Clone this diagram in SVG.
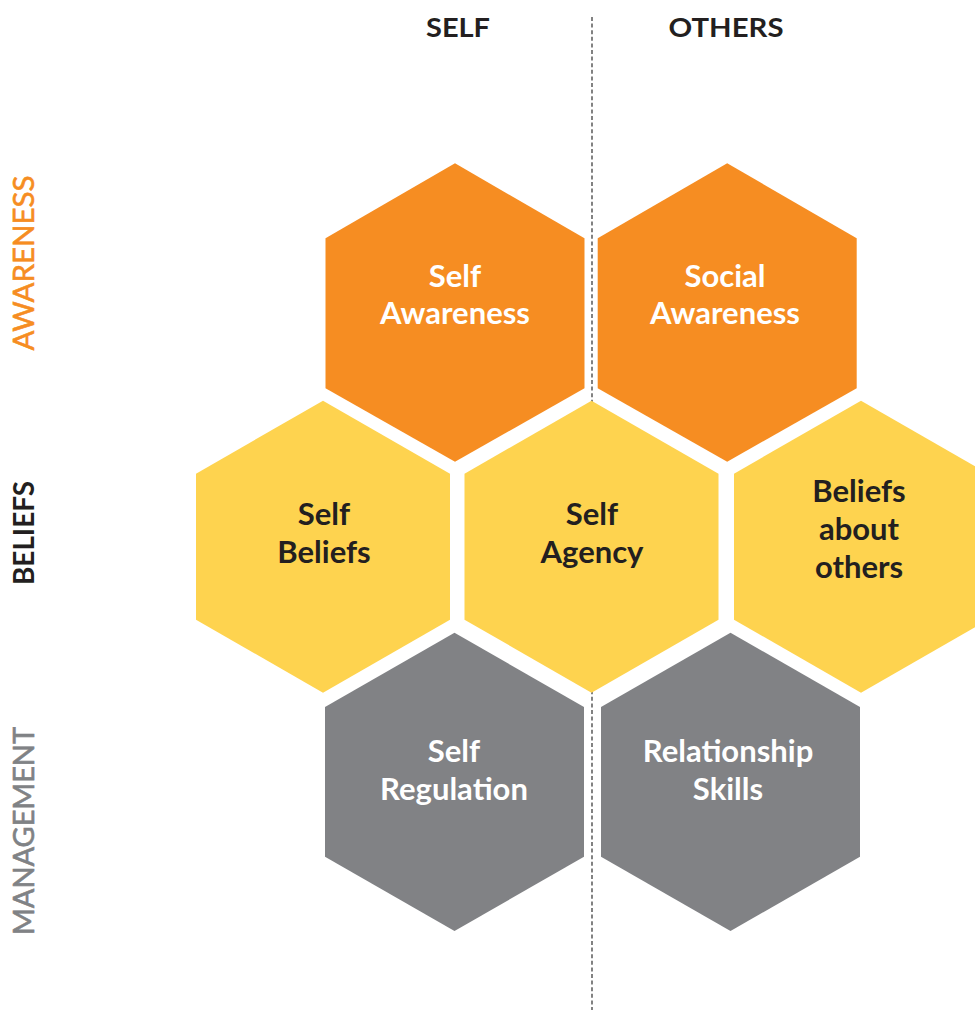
<svg xmlns="http://www.w3.org/2000/svg" width="975" height="1010" viewBox="0 0 975 1010">
<style>
.orange{fill:#F68D22}
.yellow{fill:#FED34F}
.gray{fill:#818285}
.lbl{font-family:Lato,"Open Sans","Liberation Sans",sans-serif;font-weight:700;font-size:31px;text-anchor:middle}
.w{fill:#ffffff}
.d{fill:#231F20}
.hdr{font-family:Lato,"Open Sans","Liberation Sans",sans-serif;font-weight:700;font-size:27px;fill:#231F20;text-anchor:middle}
.side{font-family:Lato,"Open Sans","Liberation Sans",sans-serif;font-size:29px;text-anchor:middle}
</style>
<rect width="975" height="1010" fill="#ffffff"/>
<g id="connectors">
<line x1="592" y1="17" x2="592" y2="1010" stroke="#4D4D4D" stroke-width="1.4" stroke-dasharray="4 2.6"/>
</g>
<g id="header-self"><text class="hdr" x="458" y="37" textLength="64" lengthAdjust="spacingAndGlyphs">SELF</text></g>
<g id="header-others"><text class="hdr" x="726" y="37" textLength="115" lengthAdjust="spacingAndGlyphs">OTHERS</text></g>
<g id="row-awareness"><text class="side" fill="#F68D22" stroke="#F68D22" stroke-width="0.6" transform="translate(34,263) rotate(-90)" textLength="175" lengthAdjust="spacingAndGlyphs">AWARENESS</text></g>
<g id="row-beliefs"><text class="side" fill="#231F20" font-weight="700" transform="translate(34,533) rotate(-90)" textLength="104" lengthAdjust="spacingAndGlyphs">BELIEFS</text></g>
<g id="row-management"><text class="side" fill="#808285" stroke="#808285" stroke-width="0.6" transform="translate(34,831) rotate(-90)" textLength="208" lengthAdjust="spacingAndGlyphs">MANAGEMENT</text></g>
<g id="self-awareness">
<polygon class="orange" points="455,163.3 584.5,238.3 584.5,388.3 455,461.7 325.5,388.3 325.5,238.3"/>
<text class="lbl w" x="455" y="287">Self</text>
<text class="lbl w" x="455" y="324">Awareness</text>
</g>
<g id="social-awareness">
<polygon class="orange" points="727.2,163.3 856.7,238.3 856.7,388.3 727.2,461.7 597.7,388.3 597.7,238.3"/>
<text class="lbl w" x="725" y="287">Social</text>
<text class="lbl w" x="725" y="324">Awareness</text>
</g>
<g id="self-beliefs">
<polygon class="yellow" points="323,400.7 450,473.7 450,619.7 323,692.7 196,619.7 196,473.7"/>
<text class="lbl d" x="324" y="525">Self</text>
<text class="lbl d" x="324" y="563">Beliefs</text>
</g>
<g id="self-agency">
<polygon class="yellow" points="591.5,400.7 718.5,473.7 718.5,619.7 591.5,692.7 464.5,619.7 464.5,473.7"/>
<text class="lbl d" x="592" y="525">Self</text>
<text class="lbl d" x="592" y="563">Agency</text>
</g>
<g id="beliefs-about-others">
<polygon class="yellow" points="861,400.7 988,473.7 988,619.7 861,692.7 734,619.7 734,473.7"/>
<text class="lbl d" x="859" y="502">Beliefs</text>
<text class="lbl d" x="859" y="540">about</text>
<text class="lbl d" x="859" y="578">others</text>
</g>
<g id="self-regulation">
<polygon class="gray" points="454.5,632.7 584,707 584,856.7 454.5,931 325,856.7 325,707"/>
<text class="lbl w" x="454" y="762">Self</text>
<text class="lbl w" x="454" y="800">Regulation</text>
</g>
<g id="relationship-skills">
<polygon class="gray" points="730.5,632.7 860,707 860,856.7 730.5,931 601,856.7 601,707"/>
<text class="lbl w" x="728" y="762">Relationship</text>
<text class="lbl w" x="728" y="800">Skills</text>
</g>
</svg>
